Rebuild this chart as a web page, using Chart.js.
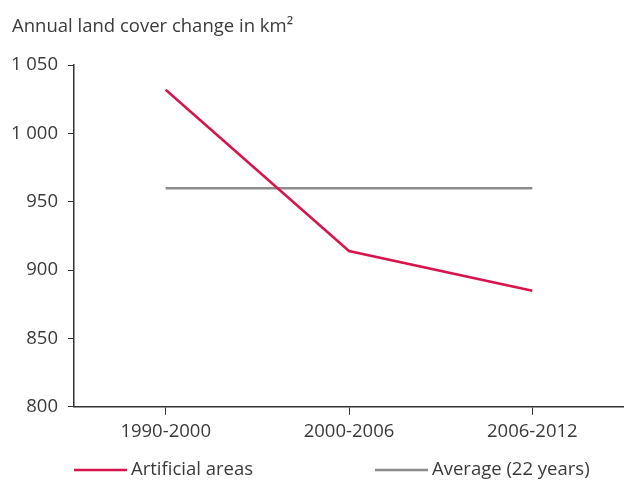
<!DOCTYPE html>
<html>
<head>
<meta charset="utf-8">
<script src="https://cdn.jsdelivr.net/npm/chart.js@4"></script>
<style>
  html, body { margin: 0; padding: 0; background: #fff; }
  #wrap { width: 624px; height: 480px; }
</style>
</head>
<body>
<div id="wrap"><canvas id="landChart" width="624" height="480"></canvas></div>
<script>
const periods = ["1990-2000", "2000-2006", "2006-2012"];
const artificialAreas = [1032, 914, 885];
const average22 = [960, 960, 960];
const seriesNames = ["Artificial areas", "Average (22 years)"];
const seriesColors = ["#d7144b", "#8c8c8c"];

const txt = "#3a3a3a";
const fontSize = 18.5;
Chart.defaults.font.family = "'Open Sans', sans-serif";
Chart.defaults.font.size = fontSize;
Chart.defaults.color = txt;

function spaced(v) {
  return String(v).replace(/\B(?=(\d{3})+(?!\d))/g, " ");
}

// legend under the x labels: line sample + text, second item further right
const lineLegend = {
  id: "lineLegend",
  afterDraw(chart) {
    const ctx = chart.ctx;
    const area = chart.chartArea;
    const y = chart.height - 10;
    const starts = [area.left, area.left + 301];
    ctx.save();
    ctx.font = fontSize + "px 'Open Sans', sans-serif";
    ctx.textBaseline = "middle";
    ctx.fillStyle = txt;
    chart.data.datasets.forEach((ds, i) => {
      const x = starts[i];
      ctx.strokeStyle = ds.borderColor;
      ctx.lineWidth = 2.5;
      ctx.beginPath();
      ctx.moveTo(x, y);
      ctx.lineTo(x + 53, y);
      ctx.stroke();
      ctx.fillText(ds.label, x + 57, y);
    });
    ctx.restore();
  },
};

new Chart(document.getElementById("landChart"), {
  type: "line",
  data: {
    labels: periods,
    datasets: [
      {
        label: seriesNames[0],
        data: artificialAreas,
        borderColor: seriesColors[0],
        backgroundColor: seriesColors[0],
        borderWidth: 2.5,
        pointRadius: 0,
        tension: 0,
        fill: false,
      },
      {
        label: seriesNames[1],
        data: average22,
        borderColor: seriesColors[1],
        backgroundColor: seriesColors[1],
        borderWidth: 2.5,
        pointRadius: 0,
        tension: 0,
        fill: false,
      },
    ],
  },
  options: {
    responsive: false,
    animation: false,
    layout: { padding: { left: 12, right: 0, top: 16, bottom: 31 } },
    plugins: {
      title: {
        display: true,
        text: "Annual land cover change in km²",
        align: "start",
        font: { size: fontSize, weight: "normal" },
        color: txt,
        padding: { top: 0, bottom: 27 },
      },
      legend: { display: false },
      tooltip: { enabled: false },
    },
    scales: {
      x: {
        offset: true,
        grid: {
          display: true,
          drawOnChartArea: false,
          tickLength: 8,
          color: "#333",
          offset: false,
        },
        border: { color: "#333", width: 1.5 },
        ticks: { padding: 6, maxRotation: 0 },
      },
      y: {
        min: 800,
        max: 1050,
        afterFit: (s) => { s.width = 62; },
        ticks: { stepSize: 50, padding: 10, callback: (v) => spaced(v) },
        grid: { drawOnChartArea: false, tickLength: 6, color: "#333" },
        border: { color: "#333", width: 1.5 },
      },
    },
  },
  plugins: [lineLegend],
});
</script>
</body>
</html>
